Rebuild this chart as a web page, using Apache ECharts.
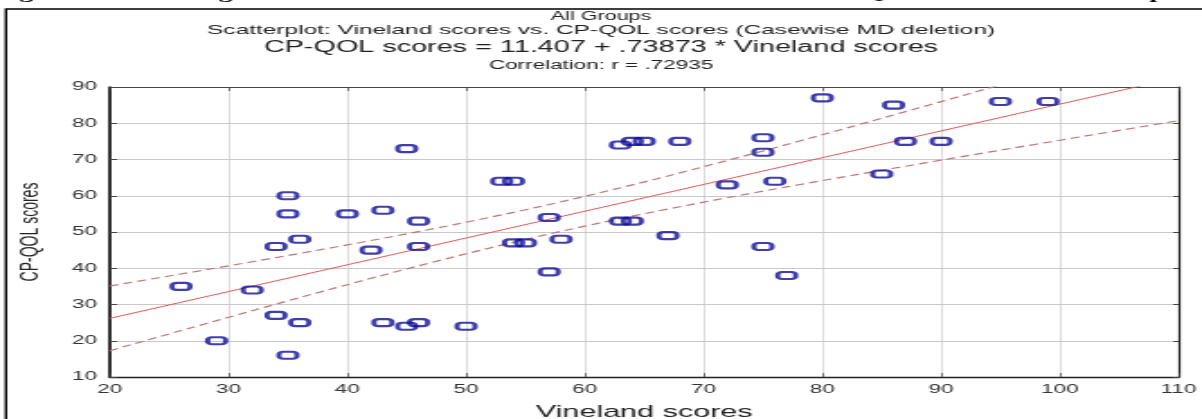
<!DOCTYPE html>
<html><head><meta charset="utf-8">
<script src="https://cdn.jsdelivr.net/npm/echarts@6/dist/echarts.min.js"></script>
<style>
html,body{margin:0;padding:0;background:#fff;overflow:hidden;width:1202px;height:419px}
#wrap{width:668px;height:419px;transform:scaleX(1.7994);transform-origin:0 0}
</style></head><body><div id="wrap"></div>
<script>
// Data
const vineland = [26,29,32,34,34,35,35,35,36,36,40,42,43,43,45,45,46,46,46,50,53,54,54,55,57,57,58,63,63,64,64,65,67,68,72,75,75,75,76,77,80,85,86,87,90,95,99];
const cpqol    = [35,20,34,27,46,16,55,60,25,48,55,45,56,25,24,73,25,53,46,24,64,64,47,47,54,39,48,74,53,75,53,75,49,75,63,76,72,46,64,38,87,66,85,75,75,86,86];
const intercept = 11.407;
const slope = 0.73873;
const tCrit = 2.014;
const xRange = [20, 110];
const yRange = [10, 90];
const tickStep = 10;
const captionText = 'Figure: Scatter diagram of correlation between Vineland scores with CP-QOL scores in total sample';
const titleLines = [
  'All Groups',
  'Scatterplot: Vineland scores vs. CP-QOL scores (Casewise MD deletion)',
  'CP-QOL scores = 11.407 + .73873 * Vineland scores',
  'Correlation: r = .72935'
];
const xName = 'Vineland scores';
const yName = 'CP-QOL scores';

const points = vineland.map((v, i) => [v, cpqol[i]]);
const n = vineland.length;
const xbar = vineland.reduce((a, b) => a + b, 0) / n;
const sxx = vineland.reduce((a, v) => a + (v - xbar) * (v - xbar), 0);
const sse = points.reduce((a, p) => { const r = p[1] - (intercept + slope * p[0]); return a + r * r; }, 0);
const s = Math.sqrt(sse / (n - 2));
const fitLine = [[xRange[0], intercept + slope * xRange[0]], [xRange[1], intercept + slope * xRange[1]]];
const upper = [], lower = [];
for (let x = xRange[0]; x <= xRange[1]; x += 1) {
  const yh = intercept + slope * x;
  const h = tCrit * s * Math.sqrt(1 / n + (x - xbar) * (x - xbar) / sxx);
  upper.push([x, yh + h]);
  lower.push([x, yh - h]);
}

const FONT = 'Liberation Sans, Arial, sans-serif';
const chart = echarts.init(document.getElementById('wrap'), null, {renderer: 'canvas'});
const markerPath = 'path://M3,0 H9 A3,3 0 0 1 12,3 V5 A3,3 0 0 1 9,8 H3 A3,3 0 0 1 0,5 V3 A3,3 0 0 1 3,0 Z';

chart.setOption({
  animation: false,
  backgroundColor: '#fff',
  graphic: [
    {type: 'text', style: {x: -3, y: 2.5, text: captionText, textAlign: 'left', textVerticalAlign: 'bottom', font: 'bold 15.5px Liberation Serif, Times New Roman, serif', fill: '#000'}, silent: true},
    {type: 'rect', shape: {x: 3.3, y: 9, width: 700, height: 500}, style: {fill: 'none', stroke: '#000', lineWidth: 1.4}, silent: true},
    {type: 'text', style: {x: 334, y: 17, text: titleLines[0], textAlign: 'center', textVerticalAlign: 'middle', font: '12px ' + FONT, fill: '#222'}},
    {type: 'text', style: {x: 334, y: 30.5, text: titleLines[1], textAlign: 'center', textVerticalAlign: 'middle', font: '13.6px ' + FONT, fill: '#222'}},
    {type: 'text', style: {x: 334, y: 47.5, text: titleLines[2], textAlign: 'center', textVerticalAlign: 'middle', font: '16px ' + FONT, fill: '#222'}},
    {type: 'text', style: {x: 334, y: 66, text: titleLines[3], textAlign: 'center', textVerticalAlign: 'middle', font: '12.5px ' + FONT, fill: '#222'}}
  ],
  grid: {left: 61, right: 13, top: 87, bottom: 42, containLabel: false, outerBoundsMode: 'none'},
  xAxis: [
    {type: 'value', min: xRange[0], max: xRange[1], interval: tickStep, position: 'bottom',
     axisLine: {show: true, onZero: false, lineStyle: {color: '#222', width: 1.3}},
     axisTick: {show: true, inside: true, length: 4, lineStyle: {color: '#444', width: 0.7}},
     axisLabel: {fontSize: 12.5, color: '#333', margin: 6, fontFamily: FONT},
     splitLine: {show: true, lineStyle: {color: '#c4c4c4', width: 0.6}},
     name: xName, nameLocation: 'middle', nameGap: 27,
     nameTextStyle: {fontSize: 17, color: '#222', fontFamily: FONT}},
    {type: 'value', min: xRange[0], max: xRange[1], interval: tickStep, position: 'top',
     axisLine: {show: true, onZero: false, lineStyle: {color: '#444', width: 1}},
     axisTick: {show: true, inside: true, length: 4, lineStyle: {color: '#444', width: 0.7}},
     axisLabel: {show: false}, splitLine: {show: false}}
  ],
  yAxis: [
    {type: 'value', min: yRange[0], max: yRange[1], interval: tickStep, position: 'left',
     axisLine: {show: true, onZero: false, lineStyle: {color: '#111', width: 1.7}},
     axisTick: {show: true, inside: true, length: 4, lineStyle: {color: '#444', width: 1}},
     axisLabel: {fontSize: 12.5, color: '#333', margin: 7, fontFamily: FONT},
     splitLine: {show: true, lineStyle: {color: '#c8c8c8', width: 1}},
     name: yName, nameLocation: 'middle', nameGap: 37, nameRotate: 90,
     nameTextStyle: {fontSize: 14, color: '#222', fontFamily: FONT}},
    {type: 'value', min: yRange[0], max: yRange[1], interval: tickStep, position: 'right',
     axisLine: {show: true, onZero: false, lineStyle: {color: '#222', width: 1.2}},
     axisTick: {show: true, inside: true, length: 3, lineStyle: {color: '#444', width: 1}},
     axisLabel: {show: false}, splitLine: {show: false}}
  ],
  series: [
    {type: 'line', data: upper, showSymbol: false, clip: true, z: 3,
     lineStyle: {color: '#c27676', width: 1.2, type: [5, 3]}},
    {type: 'line', data: lower, showSymbol: false, clip: true, z: 3,
     lineStyle: {color: '#c27676', width: 1.2, type: [5, 3]}},
    {type: 'line', data: fitLine, showSymbol: false, clip: true, z: 3,
     lineStyle: {color: '#e25a5a', width: 1}},
    {type: 'scatter', data: points, symbol: markerPath, symbolSize: [10, 7], z: 5,
     itemStyle: {color: 'rgba(255,255,255,0)', borderColor: '#0e0e98', borderWidth: 2.4}}
  ]
});
</script>
</body></html>
